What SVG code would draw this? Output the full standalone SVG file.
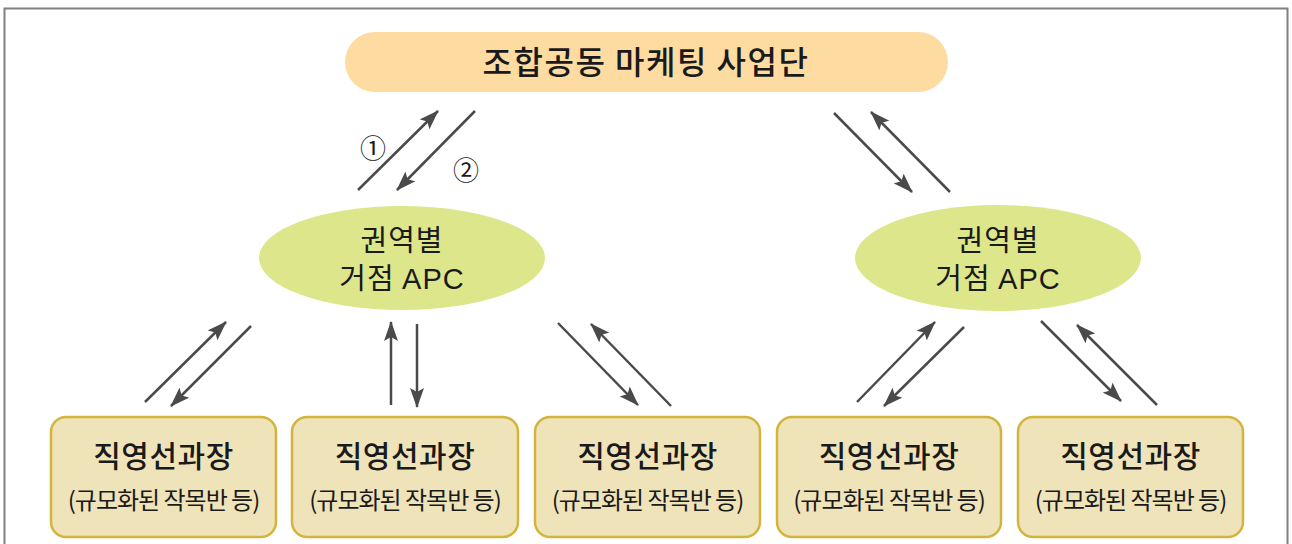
<svg xmlns="http://www.w3.org/2000/svg" width="1292" height="544" viewBox="0 0 1292 544">
<defs>
<marker id="ah" viewBox="0 0 20 14" refX="19" refY="7" markerWidth="20" markerHeight="14" markerUnits="userSpaceOnUse" orient="auto">
<path d="M0,0 L20,7 L0,14 L4,7 Z" fill="#4a4a4a"/>
</marker>
<style>
text{font-family:"Noto Sans CJK KR","Noto Sans",sans-serif;fill:#1a1a1a;text-anchor:middle}
.top{font-size:32px;font-weight:500;letter-spacing:1.5px}
.apc{font-size:29px;font-weight:400;letter-spacing:1px}
.lat{font-family:"Liberation Sans",Arial,sans-serif}
.bt{font-size:30px;font-weight:500;letter-spacing:0.5px}
.bs{font-size:24px;font-weight:400;letter-spacing:-1px}
.num{font-size:26px}
.box{fill:#efe3b9;stroke:#d3b43c;stroke-width:2.5}
.ell{fill:#dde68b}
.ln{stroke:#4a4a4a;stroke-width:2.5;fill:none}
.ar{marker-end:url(#ah)}
</style>
</defs>
<rect width="1292" height="544" fill="#ffffff"/>
<path d="M4.5,544 V8.5 H1287.5 V544" fill="none" stroke="#808080" stroke-width="2"/>

<g id="top">
<rect x="345" y="32" width="603" height="60" rx="30" fill="#fddba1"/>
<text class="top" x="646" y="74">조합공동 마케팅 사업단</text>
</g>

<g id="apc1">
<ellipse class="ell" cx="402" cy="258" rx="143" ry="52"/>
<text class="apc" x="402" y="251">권역별</text>
<text class="apc" x="402" y="289">거점 <tspan class="lat">APC</tspan></text>
</g>
<g id="apc2">
<ellipse class="ell" cx="998" cy="258" rx="143" ry="53"/>
<text class="apc" x="998" y="251">권역별</text>
<text class="apc" x="998" y="289">거점 <tspan class="lat">APC</tspan></text>
</g>

<g id="farm1">
<rect class="box" x="51" y="417" width="225" height="120" rx="15"/>
<text class="bt" x="163.5" y="467">직영선과장</text>
<text class="bs" x="163.5" y="509">(규모화된 작목반 등)</text>
</g>
<g id="farm2">
<rect class="box" x="292" y="417" width="226" height="120" rx="15"/>
<text class="bt" x="405" y="467">직영선과장</text>
<text class="bs" x="405" y="509">(규모화된 작목반 등)</text>
</g>
<g id="farm3">
<rect class="box" x="535" y="417" width="225" height="120" rx="15"/>
<text class="bt" x="647.5" y="467">직영선과장</text>
<text class="bs" x="647.5" y="509">(규모화된 작목반 등)</text>
</g>
<g id="farm4">
<rect class="box" x="777" y="417" width="224" height="120" rx="15"/>
<text class="bt" x="889" y="467">직영선과장</text>
<text class="bs" x="889" y="509">(규모화된 작목반 등)</text>
</g>
<g id="farm5">
<rect class="box" x="1018" y="417" width="225" height="120" rx="15"/>
<text class="bt" x="1130.5" y="467">직영선과장</text>
<text class="bs" x="1130.5" y="509">(규모화된 작목반 등)</text>
</g>

<g id="connectors">
<line class="ln ar" x1="358" y1="190" x2="438" y2="111"/>
<line class="ln ar" x1="475" y1="111" x2="397" y2="190"/>
<line class="ln ar" x1="834" y1="113" x2="912" y2="192"/>
<line class="ln ar" x1="950" y1="192" x2="871" y2="112"/>

<line class="ln ar" x1="145" y1="402" x2="226" y2="322"/>
<line class="ln ar" x1="251" y1="326" x2="171" y2="406"/>
<line class="ln ar" x1="391" y1="405" x2="391" y2="322"/>
<line class="ln ar" x1="417" y1="324" x2="417" y2="407"/>
<line class="ln ar" x1="558" y1="323" x2="638" y2="405"/>
<line class="ln ar" x1="671" y1="406" x2="591" y2="324"/>

<line class="ln ar" x1="857" y1="402" x2="935" y2="322"/>
<line class="ln ar" x1="964" y1="327" x2="884" y2="406"/>
<line class="ln ar" x1="1041" y1="321" x2="1121" y2="401"/>
<line class="ln ar" x1="1157" y1="405" x2="1077" y2="325"/>
</g>
<g id="labels">
<text class="num" x="373" y="158">①</text>
<text class="num" x="466" y="180">②</text>
</g>
</svg>
